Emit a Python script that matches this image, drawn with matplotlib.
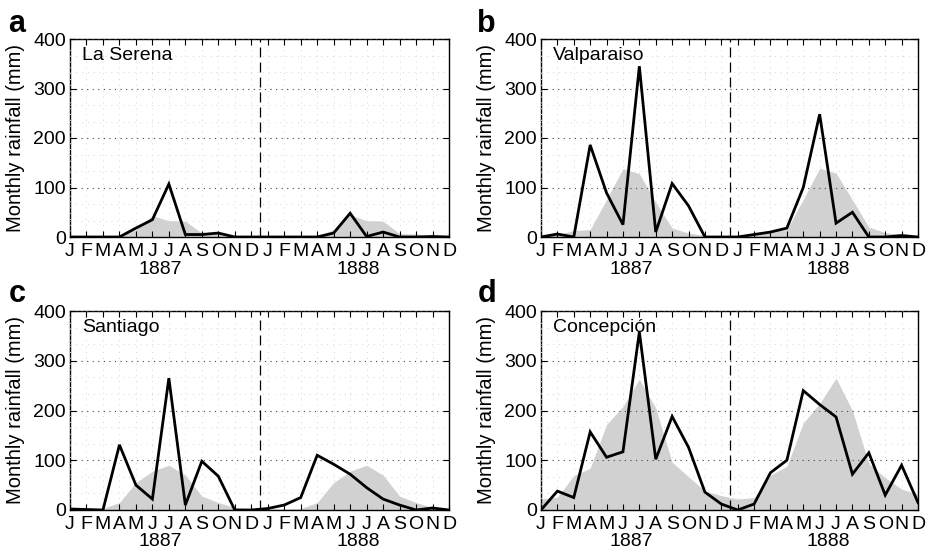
import numpy as np
import matplotlib
matplotlib.use("Agg")
import matplotlib.pyplot as plt
from matplotlib.ticker import MultipleLocator
import matplotlib.transforms as mtransforms

plt.rcParams['font.family'] = ['Liberation Sans', 'DejaVu Sans']

months = ['J', 'F', 'M', 'A', 'M', 'J', 'J', 'A', 'S', 'O', 'N', 'D']
years = ['1887', '1888']

# monthly rainfall (mm), Jan 1887 .. Dec 1888
serena_obs = [0, 0, 0, 0, 18, 35, 107, 5, 5, 8, 0, 0,
              0, 0, 0, 0, 8, 48, 1, 10, 0, 0, 1, 0]
serena_clim = [0, 0, 0, 2, 15, 43, 33, 32, 8, 7, 3, 1,
               0, 0, 0, 2, 15, 45, 33, 32, 7, 6, 3, 1]

valpo_obs = [0, 6, 0, 186, 89, 25, 345, 10, 108, 63, 0, 0,
             0, 5, 10, 18, 100, 248, 28, 50, 0, 0, 3, 0]
valpo_clim = [0, 5, 13, 15, 76, 138, 128, 70, 18, 8, 3, 0,
              0, 5, 13, 15, 76, 139, 129, 75, 20, 9, 4, 0]

santiago_obs = [2, 1, 0, 131, 50, 22, 265, 10, 98, 68, 0, 0,
                3, 10, 25, 110, 92, 72, 45, 22, 10, 0, 4, 0]
santiago_clim = [2, 2, 3, 15, 55, 78, 90, 70, 28, 15, 5, 2,
                 2, 2, 3, 15, 55, 78, 90, 70, 28, 15, 5, 1]

concep_obs = [0, 38, 25, 157, 106, 117, 358, 102, 188, 126, 36, 12,
              0, 12, 75, 100, 240, 212, 187, 72, 115, 30, 90, 15]
concep_clim = [22, 26, 69, 84, 172, 208, 263, 205, 96, 67, 38, 29,
               22, 25, 70, 88, 175, 214, 265, 200, 93, 65, 42, 32]

panels = [
    ('a', 'La Serena', serena_obs, serena_clim),
    ('b', 'Valparaiso', valpo_obs, valpo_clim),
    ('c', 'Santiago', santiago_obs, santiago_clim),
    ('d', 'Concepción', concep_obs, concep_clim),
]

W, H = 930, 557
fig = plt.figure(figsize=(W / 100, H / 100), dpi=100)

# axes boxes in pixels: left, top, right, bottom
boxes = [(70, 39, 449, 237), (541, 39, 918, 237),
         (70, 311, 449, 510), (541, 311, 918, 510)]
letter_pos = [(8, 32), (477, 32), (9, 302), (478, 302)]

x = np.arange(24)
fs = 14

for (letter, name, obs, clim), (l, t, r, b), (lx, ly) in zip(panels, boxes, letter_pos):
    ax = fig.add_axes([l / W, 1 - b / H, (r - l) / W, (b - t) / H])
    ax.fill_between(x, 0, clim, color='#d0d1d0', lw=0, zorder=1)
    ax.plot(x, obs, color='black', lw=2.0, zorder=4, solid_joinstyle='miter')
    ax.axvline(11.5, color='black', lw=0.9, ls=(0, (8, 4)), zorder=3)

    ax.set_xlim(0, 23)
    ax.set_ylim(0, 400)
    ax.set_xticks(x)
    ax.set_xticklabels(months * 2)
    ax.set_yticks([0, 100, 200, 300, 400])
    ax.yaxis.set_minor_locator(MultipleLocator(100 / 3))

    ax.grid(axis='y', which='major', color='0.25', ls=(0, (1, 4)), lw=0.8, zorder=2.5)
    ax.grid(axis='y', which='minor', color='0.84', ls=(0, (1, 5)), lw=0.7, zorder=2.5)
    ax.grid(axis='x', which='major', color='0.84', ls=(0, (1, 5)), lw=0.7, zorder=2.5)
    ax.set_axisbelow(False)

    ax.tick_params(which='major', direction='in', length=4, width=0.8,
                   top=True, right=True, labelsize=fs)
    ax.tick_params(axis='x', pad=4)
    ax.tick_params(axis='y', pad=3)
    ax.tick_params(which='minor', length=0)
    for s in ax.spines.values():
        s.set_linewidth(1.0)

    ax.set_ylabel('Monthly rainfall (mm)', fontsize=14.5)
    ax.yaxis.set_label_coords(-0.12, 0.5)

    trans = mtransforms.blended_transform_factory(ax.transData, ax.transAxes)
    ax.text(5.5, -32 / (b - t), years[0], transform=trans, ha='center',
            va='center', fontsize=fs)
    ax.text(17.5, -32 / (b - t), years[1], transform=trans, ha='center',
            va='center', fontsize=fs)

    ax.text(12 / (r - l), 1 - 8 / (b - t), name, transform=ax.transAxes,
            ha='left', va='top', fontsize=fs)

    fig.text(lx / W, 1 - ly / H, letter, fontsize=22, fontweight='bold',
             ha='left', va='baseline')

fig.savefig('out.png', dpi=100)
